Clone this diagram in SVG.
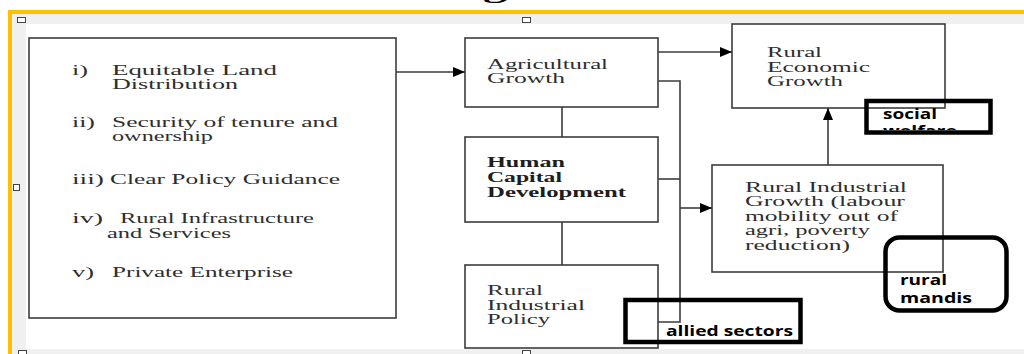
<svg xmlns="http://www.w3.org/2000/svg" width="1024" height="354" viewBox="0 0 1024 354">
<style>
.box{fill:#fff;stroke:#3c3c3c;stroke-width:1.6}
.ln{fill:none;stroke:#3c3c3c;stroke-width:1.6}
.t{font-family:"Liberation Serif",serif;font-size:15px;fill:#2e2e2e}
.tb{font-family:"Liberation Serif",serif;font-size:15px;font-weight:bold;fill:#1e1e1e}
.hl{fill:none;stroke:#000;stroke-width:4.5}
.lb{font-family:"Open Sans","Liberation Sans",sans-serif;font-size:13.5px;font-weight:bold;fill:#000}
.hd{fill:#fff;stroke:#444;stroke-width:1}
</style>
<defs>
<marker id="ah" viewBox="0 0 12 10" refX="12" refY="5" markerWidth="12" markerHeight="10" markerUnits="userSpaceOnUse" orient="auto">
<path d="M0,0 L12,5 L0,10 Z" fill="#000"/>
</marker>
<clipPath id="swclip"><rect x="869" y="103" width="119" height="27"/></clipPath>
</defs>
<rect width="1024" height="354" fill="#fff"/>
<g id="frame">
<rect x="12" y="14" width="1012" height="10" fill="#f0f0f0"/>
<rect x="12" y="14" width="14" height="340" fill="#f0f0f0"/>
<rect x="12" y="349" width="1012" height="5" fill="#f0f0f0"/>
<rect x="8" y="10" width="1016" height="4" fill="#ffc000"/>
<rect x="8" y="10" width="4" height="344" fill="#ffc000"/>
<rect class="hd" x="17.5" y="17.5" width="8" height="5"/>
<rect class="hd" x="522.5" y="17.5" width="8" height="5"/>
<rect class="hd" x="13.5" y="184.5" width="6" height="6"/>
<rect class="hd" x="18.5" y="350.5" width="8" height="6"/>
<rect class="hd" x="522.5" y="350.5" width="8" height="6"/>
<text x="483" y="-2" font-family="Liberation Serif,serif" font-weight="bold" font-size="24" textLength="24" lengthAdjust="spacingAndGlyphs" fill="#000">g</text>
</g>
<g id="factors">
<rect class="box" x="29" y="38" width="367" height="280"/>
<text class="t" x="72" y="75" textLength="16" lengthAdjust="spacingAndGlyphs">i)</text>
<text class="t" x="112" y="75" textLength="165" lengthAdjust="spacingAndGlyphs">Equitable Land</text>
<text class="t" x="112" y="89" textLength="126" lengthAdjust="spacingAndGlyphs">Distribution</text>
<text class="t" x="72" y="127" textLength="23" lengthAdjust="spacingAndGlyphs">ii)</text>
<text class="t" x="112" y="127" textLength="226" lengthAdjust="spacingAndGlyphs">Security of tenure and</text>
<text class="t" x="112" y="141" textLength="101" lengthAdjust="spacingAndGlyphs">ownership</text>
<text class="t" x="72" y="184" textLength="32" lengthAdjust="spacingAndGlyphs">iii)</text>
<text class="t" x="110" y="184" textLength="230" lengthAdjust="spacingAndGlyphs">Clear Policy Guidance</text>
<text class="t" x="72" y="223" textLength="31" lengthAdjust="spacingAndGlyphs">iv)</text>
<text class="t" x="120" y="223" textLength="194" lengthAdjust="spacingAndGlyphs">Rural Infrastructure</text>
<text class="t" x="107" y="238" textLength="124" lengthAdjust="spacingAndGlyphs">and Services</text>
<text class="t" x="72" y="277" textLength="22" lengthAdjust="spacingAndGlyphs">v)</text>
<text class="t" x="112" y="277" textLength="181" lengthAdjust="spacingAndGlyphs">Private Enterprise</text>
</g>
<g id="agri">
<rect class="box" x="465" y="38" width="193" height="69"/>
<text class="t" x="487" y="69" textLength="121" lengthAdjust="spacingAndGlyphs">Agricultural</text>
<text class="t" x="487" y="83" textLength="78" lengthAdjust="spacingAndGlyphs">Growth</text>
</g>
<g id="hcd">
<rect class="box" x="465" y="137" width="193" height="85"/>
<text class="tb" x="487" y="167" textLength="78" lengthAdjust="spacingAndGlyphs">Human</text>
<text class="tb" x="487" y="182" textLength="75" lengthAdjust="spacingAndGlyphs">Capital</text>
<text class="tb" x="487" y="197" textLength="139" lengthAdjust="spacingAndGlyphs">Development</text>
</g>
<g id="rip">
<rect class="box" x="465" y="265" width="193" height="83"/>
<text class="t" x="487" y="295" textLength="56" lengthAdjust="spacingAndGlyphs">Rural</text>
<text class="t" x="487" y="310" textLength="98" lengthAdjust="spacingAndGlyphs">Industrial</text>
<text class="t" x="487" y="324" textLength="63" lengthAdjust="spacingAndGlyphs">Policy</text>
</g>
<g id="reg">
<rect class="box" x="732" y="24" width="213" height="84"/>
<text class="t" x="767" y="57" textLength="55" lengthAdjust="spacingAndGlyphs">Rural</text>
<text class="t" x="767" y="72" textLength="103" lengthAdjust="spacingAndGlyphs">Economic</text>
<text class="t" x="767" y="86" textLength="76" lengthAdjust="spacingAndGlyphs">Growth</text>
</g>
<g id="rig">
<rect class="box" x="712" y="165" width="231" height="107"/>
<text class="t" x="745" y="192" textLength="162" lengthAdjust="spacingAndGlyphs">Rural Industrial</text>
<text class="t" x="745" y="206" textLength="160" lengthAdjust="spacingAndGlyphs">Growth (labour</text>
<text class="t" x="745" y="221" textLength="153" lengthAdjust="spacingAndGlyphs">mobility out of</text>
<text class="t" x="745" y="235" textLength="125" lengthAdjust="spacingAndGlyphs">agri, poverty</text>
<text class="t" x="745" y="250" textLength="105" lengthAdjust="spacingAndGlyphs">reduction)</text>
</g>
<g id="connectors">
<line class="ln" x1="396" y1="72" x2="465" y2="72" marker-end="url(#ah)"/>
<line class="ln" x1="658" y1="52" x2="732" y2="52" marker-end="url(#ah)"/>
<line class="ln" x1="562" y1="107" x2="562" y2="137"/>
<line class="ln" x1="562" y1="222" x2="562" y2="265"/>
<polyline class="ln" points="658,81 680,81 680,322 658,322"/>
<line class="ln" x1="658" y1="179" x2="680" y2="179"/>
<line class="ln" x1="680" y1="208" x2="712" y2="208" marker-end="url(#ah)"/>
<line class="ln" x1="828" y1="165" x2="828" y2="108" marker-end="url(#ah)"/>
</g>
<g id="social-welfare">
<g clip-path="url(#swclip)">
<text class="lb" x="883" y="119" textLength="54" lengthAdjust="spacingAndGlyphs">social</text>
<text class="lb" x="883" y="136" textLength="74" lengthAdjust="spacingAndGlyphs">welfare</text>
</g>
<rect class="hl" x="866.5" y="101" width="124" height="31.5"/>
</g>
<g id="rural-mandis">
<rect class="hl" x="885.5" y="237.5" width="121" height="73" rx="14"/>
<text class="lb" x="900" y="285" textLength="47" lengthAdjust="spacingAndGlyphs">rural</text>
<text class="lb" x="900" y="303" textLength="72" lengthAdjust="spacingAndGlyphs">mandis</text>
</g>
<g id="allied-sectors">
<rect class="hl" x="625.5" y="300" width="175" height="42"/>
<text class="lb" x="666" y="336" textLength="127" lengthAdjust="spacingAndGlyphs">allied sectors</text>
</g>
</svg>
